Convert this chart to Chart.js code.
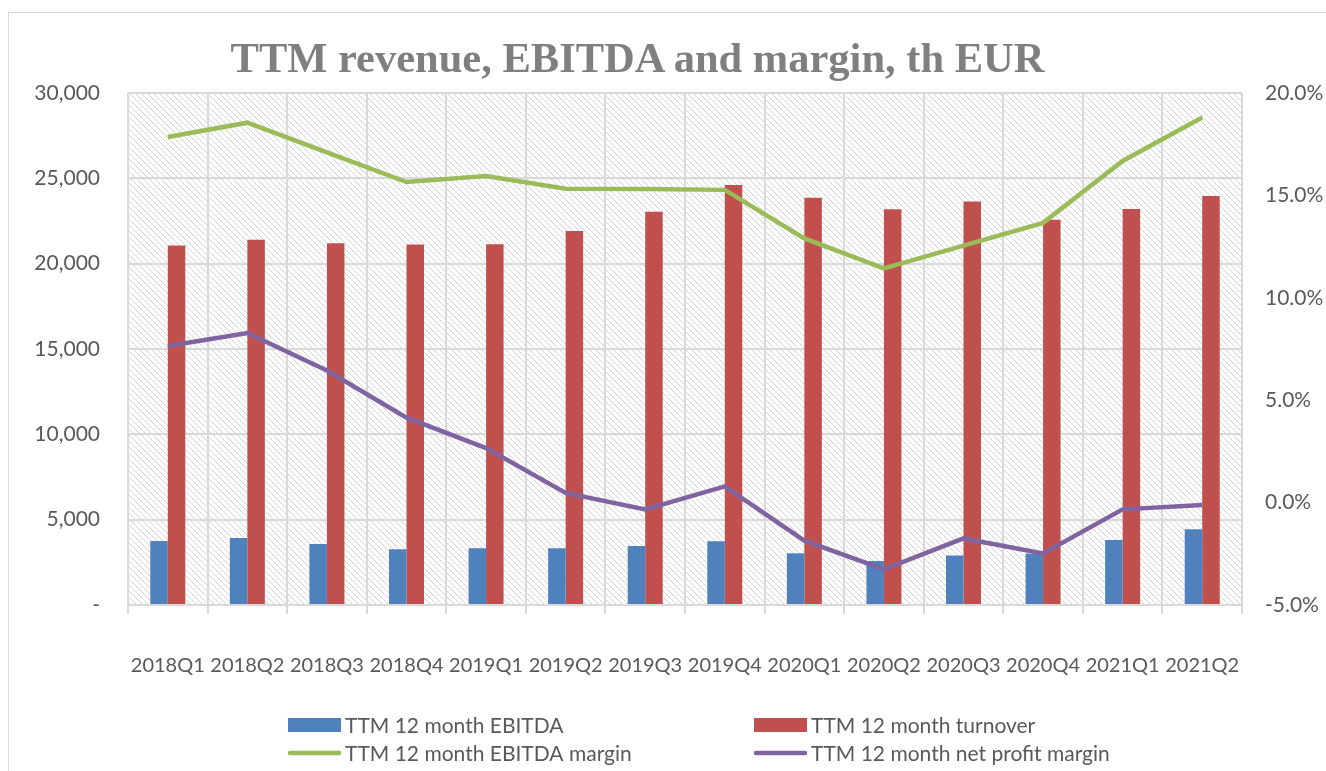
<!DOCTYPE html>
<html>
<head>
<meta charset="utf-8">
<script src="https://cdn.jsdelivr.net/npm/chart.js@4.4.0/dist/chart.umd.min.js"></script>
<style>
  html, body { margin: 0; padding: 0; background: #ffffff; overflow: hidden; }
  #wrap { position: absolute; left: 0; top: 0; width: 1326px; height: 771px; }
  #frame { position: absolute; left: 8px; top: 12px; width: 1340px; height: 780px; border: 1.5px solid #d9d9d9; box-sizing: border-box; }
  #title { position: absolute; left: 0; width: 1275px; top: 36px; text-align: center;
           font: bold 42.5px "Liberation Serif", serif; line-height: 44px; color: #7f7f7f; white-space: nowrap; }
  canvas { position: absolute; left: 0; top: 0; }
</style>
</head>
<body>
<div id="wrap">
  <div id="frame"></div>
  <canvas id="c" width="1326" height="771"></canvas>
  <div id="title">TTM revenue, EBITDA and margin, th EUR</div>
</div>
<script>
const categories = ['2018Q1','2018Q2','2018Q3','2018Q4','2019Q1','2019Q2','2019Q3','2019Q4','2020Q1','2020Q2','2020Q3','2020Q4','2021Q1','2021Q2'];
const ebitda = [3750, 3930, 3570, 3270, 3320, 3320, 3460, 3730, 3030, 2580, 2900, 3010, 3810, 4440];
const turnover = [21060, 21400, 21200, 21130, 21140, 21910, 23040, 24610, 23860, 23190, 23640, 22570, 23200, 23960];
const ebitdaMargin = [17.85, 18.55, 17.1, 15.65, 15.95, 15.33, 15.31, 15.27, 12.9, 11.44, 12.55, 13.66, 16.68, 18.8];
const netMargin = [7.65, 8.28, 6.45, 4.15, 2.66, 0.47, -0.33, 0.79, -1.86, -3.26, -1.75, -2.48, -0.33, -0.12];
const seriesNames = ['TTM 12 month EBITDA', 'TTM 12 month turnover', 'TTM 12 month EBITDA margin', 'TTM 12 month net profit margin'];
const leftTicks = { min: 0, max: 30000, step: 5000 };
const rightTicks = { min: -5, max: 20, step: 5 };

const GRID = '#d9d9d9';
const TEXT = '#595959';

const hatchPlugin = {
  id: 'hatch',
  beforeDraw(chart) {
    const { ctx, chartArea: a } = chart;
    const p = document.createElement('canvas');
    p.width = 6; p.height = 6;
    const pc = p.getContext('2d');
    pc.strokeStyle = '#d4d4d4';
    pc.lineWidth = 1;
    pc.beginPath();
    pc.moveTo(-1, -1); pc.lineTo(7, 7);
    pc.moveTo(-1, 5); pc.lineTo(1, 7);
    pc.moveTo(5, -1); pc.lineTo(7, 1);
    pc.stroke();
    ctx.save();
    ctx.fillStyle = ctx.createPattern(p, 'repeat');
    ctx.fillRect(a.left, a.top, a.right - a.left, a.bottom - a.top);
    ctx.restore();
  }
};

const legendPlugin = {
  id: 'gridLegend',
  afterDraw(chart) {
    const { ctx } = chart;
    const ds = chart.data.datasets;
    const slots = [[288, 725], [754, 725], [288, 753], [754, 753]];
    ctx.save();
    ctx.font = '21px Lato';
    ctx.fillStyle = TEXT;
    ctx.textBaseline = 'middle';
    ds.forEach((d, i) => {
      const [x, y] = slots[i];
      if (d.type === 'bar') {
        ctx.fillStyle = d.backgroundColor;
        ctx.fillRect(x, y - 7, 53, 14);
      } else {
        ctx.strokeStyle = d.borderColor;
        ctx.lineWidth = 4.5;
        ctx.lineCap = 'round';
        ctx.beginPath();
        ctx.moveTo(x + 2, y); ctx.lineTo(x + 51, y);
        ctx.stroke();
      }
      ctx.fillStyle = TEXT;
      ctx.fillText(d.label, x + 57, y + 1);
    });
    ctx.restore();
  }
};

new Chart(document.getElementById('c'), {
  data: {
    labels: categories,
    datasets: [
      { type: 'bar', label: seriesNames[0], data: ebitda, backgroundColor: '#4f81bd', yAxisID: 'y', order: 2,
        categoryPercentage: 0.44, barPercentage: 1.0 },
      { type: 'bar', label: seriesNames[1], data: turnover, backgroundColor: '#c0504d', yAxisID: 'y', order: 2,
        categoryPercentage: 0.44, barPercentage: 1.0 },
      { type: 'line', label: seriesNames[2], data: ebitdaMargin, borderColor: '#9bbb59', backgroundColor: '#9bbb59',
        borderWidth: 4.5, pointRadius: 0, tension: 0, yAxisID: 'y2', order: 1 },
      { type: 'line', label: seriesNames[3], data: netMargin, borderColor: '#8064a2', backgroundColor: '#8064a2',
        borderWidth: 4.5, pointRadius: 0, tension: 0, yAxisID: 'y2', order: 0 }
    ]
  },
  options: {
    responsive: false,
    animation: false,
    devicePixelRatio: 1,
    layout: { padding: { top: 93, left: 0, right: 0, bottom: 0 } },
    plugins: { legend: { display: false }, title: { display: false }, tooltip: { enabled: false } },
    scales: {
      x: {
        offset: true,
        grid: { color: GRID, lineWidth: 2, offset: true, tickLength: 9, drawTicks: true, tickColor: GRID },
        border: { color: GRID, width: 2 },
        ticks: { color: TEXT, font: { family: 'Lato', size: 20 }, padding: 40, maxRotation: 0, autoSkip: false },
        afterFit(axis) { axis.height = 166; }
      },
      y: {
        position: 'left',
        min: leftTicks.min, max: leftTicks.max,
        grid: { color: GRID, lineWidth: 2, drawTicks: false },
        border: { display: false },
        ticks: {
          stepSize: leftTicks.step, color: TEXT, font: { family: 'Lato', size: 21 }, padding: 28,
          callback: v => v === 0 ? '-' : v.toLocaleString('en-US')
        },
        afterFit(axis) { axis.width = 128; }
      },
      y2: {
        position: 'right',
        min: rightTicks.min, max: rightTicks.max,
        grid: { display: false, drawTicks: false },
        border: { display: false },
        ticks: {
          stepSize: rightTicks.step, color: TEXT, font: { family: 'Lato', size: 21 }, padding: 23,
          callback: v => v.toFixed(1) + '%'
        },
        afterFit(axis) { axis.width = 84; }
      }
    }
  },
  plugins: [hatchPlugin, legendPlugin]
});
</script>
</body>
</html>
